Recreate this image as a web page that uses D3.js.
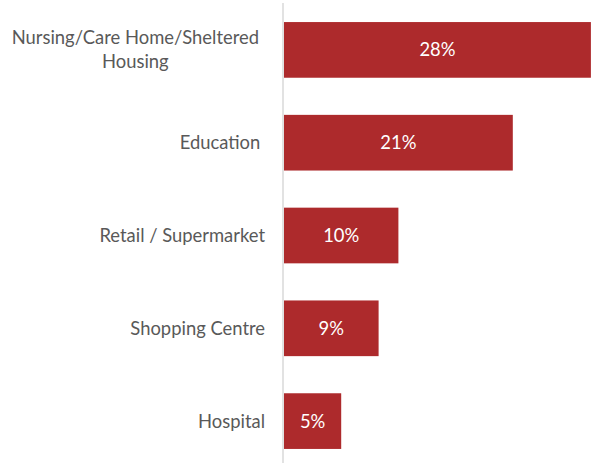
<!DOCTYPE html>
<html>
<head>
<meta charset="utf-8">
<script src="https://cdn.jsdelivr.net/npm/d3@7"></script>
<style>
    body { margin: 0; background: #fff; }
    svg text { font-family: Lato, "Open Sans", sans-serif; }
</style>
</head>
<body>
<div id="chart"></div>
<script>
// categories, top to bottom (labels may wrap onto several lines)
const categories = ["Nursing/Care Home/Sheltered|Housing", "Education ", "Retail / Supermarket", "Shopping Centre", "Hospital"];
// share of responses, %
const values = [27.9, 20.8, 10.4, 8.6, 5.2];

const width = 592, height = 463;
const axisX = 284;
const barColor = '#ad2a2c';
const fontSize = "18.4px";

const svg = d3.select("#chart").append("svg")
    .attr("width", width).attr("height", height);

// y band scale for categories
const y = d3.scaleBand().domain(categories)
    .range([3.5, 467.5]).paddingInner(0.4).paddingOuter(0.2);

// x scale for percentages
const x = d3.scaleLinear().domain([0, 28]).range([axisX, axisX + 308]);

// bars
const bars = svg.selectAll(".bar").data(categories.map((c, i) => ({cat: c, v: values[i]})))
    .enter().append("g").attr("class", "bar");

bars.append("rect")
    .attr("x", x(0))
    .attr("y", d => y(d.cat))
    .attr("width", d => x(d.v) - x(0))
    .attr("height", y.bandwidth())
    .attr("fill", barColor);

bars.append("text")
    .attr("x", d => (x(0) + x(d.v)) / 2)
    .attr("y", d => y(d.cat) + y.bandwidth() / 2)
    .attr("dy", "0.35em")
    .attr("text-anchor", "middle")
    .attr("fill", "#fff")
    .style("font-size", fontSize)
    .text(d => d3.format(".0f")(d.v) + "%");

// vertical axis line
svg.append("line")
    .attr("x1", axisX - 1).attr("x2", axisX - 1)
    .attr("y1", 3).attr("y2", height)
    .attr("stroke", "#d9d9d9").attr("stroke-width", 1.5);

// category labels, multi-line ones centred on their widest line
const labelRight = 265;
categories.forEach(c => {
    const lines = c.split("|");
    const g = svg.append("text")
        .attr("fill", "#595959")
        .style("font-size", fontSize)
        .style("white-space", "pre");
    const cy = y(c) + y.bandwidth() / 2;
    const lh = 24;
    lines.forEach((l, i) => {
        g.append("tspan").text(l)
            .attr("y", cy + (i - (lines.length - 1) / 2) * lh)
            .attr("dy", "0.35em");
    });
    if (lines.length === 1) {
        g.attr("text-anchor", "end").selectAll("tspan").attr("x", labelRight);
    } else {
        const w = d3.max(g.selectAll("tspan").nodes(), n => n.getComputedTextLength());
        g.attr("text-anchor", "middle").selectAll("tspan").attr("x", labelRight - 6 - w / 2);
    }
});
</script>
</body>
</html>
